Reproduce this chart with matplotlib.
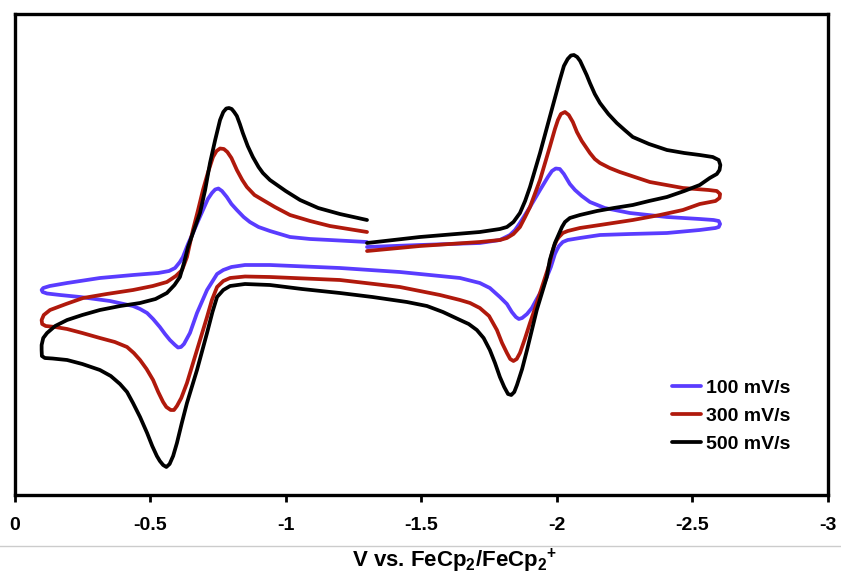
import matplotlib
matplotlib.use("Agg")
import matplotlib.pyplot as plt
from matplotlib import font_manager
from matplotlib.lines import Line2D

# cyclic voltammograms: scan starts at -1.30 V, runs to -2.60 V,
# back to -0.10 V and returns to -1.30 V (current in uA, cathodic up)

v_100 = [-1.300, -1.495, -1.716, -1.790, -1.827, -1.846, -1.864, -1.901, -1.938, -1.967,
         -1.982, -1.996, -2.011, -2.026, -2.048, -2.067, -2.092, -2.122, -2.177, -2.269,
         -2.406, -2.527, -2.578, -2.597, -2.602, -2.597, -2.585, -2.527, -2.406, -2.269,
         -2.159, -2.085, -2.040, -2.022, -2.008, -2.000, -1.993, -1.978, -1.963, -1.945,
         -1.926, -1.908, -1.890, -1.872, -1.860, -1.849, -1.834, -1.816, -1.790, -1.753,
         -1.716, -1.643, -1.569, -1.421, -1.200, -0.942, -0.850, -0.800, -0.770, -0.747,
         -0.710, -0.673, -0.647, -0.625, -0.614, -0.603, -0.592, -0.573, -0.555, -0.536,
         -0.511, -0.489, -0.463, -0.437, -0.352, -0.242, -0.168, -0.120, -0.104, -0.100,
         -0.106, -0.130, -0.194, -0.315, -0.437, -0.530, -0.570, -0.592, -0.610, -0.621,
         -0.640, -0.658, -0.677, -0.695, -0.713, -0.728, -0.740, -0.752, -0.765, -0.783,
         -0.800, -0.820, -0.845, -0.868, -0.900, -0.942, -1.016, -1.090, -1.163, -1.300]
i_100 = [2.3, 2.5, 2.7, 3.0, 3.5, 4.0, 4.7, 6.3, 8.0, 9.3,
         9.9, 10.15, 10.1, 9.6, 8.6, 8.0, 7.4, 6.8, 6.2, 5.7,
         5.3, 5.1, 5.0, 4.9, 4.6, 4.3, 4.2, 4.0, 3.7, 3.6,
         3.5, 3.2, 3.0, 2.8, 2.4, 2.0, 1.6, 0.3, -0.7, -2.0,
         -2.9, -3.8, -4.4, -4.8, -4.9, -4.7, -4.2, -3.4, -2.7, -1.8,
         -1.3, -0.8, -0.6, -0.2, 0.2, 0.5, 0.5, 0.3, 0.0, -0.4,
         -2.0, -4.3, -6.3, -7.4, -7.7, -7.75, -7.5, -7.0, -6.4, -5.7,
         -4.9, -4.3, -3.9, -3.6, -3.1, -2.7, -2.5, -2.35, -2.2, -2.0,
         -1.8, -1.6, -1.3, -0.8, -0.5, -0.3, -0.1, 0.2, 0.8, 1.3,
         2.6, 3.7, 4.9, 6.0, 7.1, 7.7, 8.05, 8.15, 7.9, 7.3,
         6.6, 6.0, 5.3, 4.8, 4.3, 3.9, 3.3, 3.1, 3.0, 2.8]

v_300 = [-1.300, -1.495, -1.716, -1.790, -1.816, -1.840, -1.864, -1.883, -1.901, -1.938,
         -1.974, -1.993, -2.004, -2.015, -2.030, -2.044, -2.059, -2.074, -2.092, -2.122,
         -2.140, -2.159, -2.195, -2.232, -2.343, -2.465, -2.560, -2.590, -2.602, -2.600,
         -2.585, -2.527, -2.465, -2.380, -2.280, -2.159, -2.085, -2.040, -2.022, -2.008,
         -2.000, -1.990, -1.982, -1.974, -1.956, -1.938, -1.920, -1.901, -1.882, -1.864,
         -1.852, -1.840, -1.828, -1.816, -1.798, -1.779, -1.750, -1.716, -1.680, -1.643,
         -1.569, -1.421, -1.200, -0.942, -0.850, -0.795, -0.770, -0.747, -0.728, -0.710,
         -0.673, -0.636, -0.615, -0.599, -0.588, -0.576, -0.560, -0.548, -0.530, -0.511,
         -0.487, -0.463, -0.440, -0.415, -0.370, -0.315, -0.250, -0.194, -0.150, -0.115,
         -0.102, -0.100, -0.108, -0.131, -0.190, -0.253, -0.340, -0.437, -0.510, -0.562,
         -0.595, -0.618, -0.636, -0.658, -0.677, -0.695, -0.714, -0.732, -0.745, -0.758,
         -0.772, -0.785, -0.800, -0.820, -0.840, -0.857, -0.885, -0.916, -0.960, -1.016,
         -1.090, -1.163, -1.300]
i_300 = [1.9, 2.4, 2.8, 3.0, 3.2, 3.6, 4.3, 5.3, 6.3, 9.0,
         12.3, 14.1, 15.0, 15.6, 15.8, 15.5, 14.8, 13.8, 12.9, 11.7,
         11.1, 10.7, 10.2, 9.8, 8.8, 8.2, 8.0, 7.9, 7.6, 7.2,
         6.9, 6.6, 6.0, 5.5, 5.0, 4.5, 4.2, 3.9, 3.7, 3.3,
         3.0, 2.4, 1.7, 0.7, -0.8, -2.3, -3.8, -5.3, -6.9, -8.3,
         -8.9, -9.1, -8.9, -8.3, -7.3, -6.0, -4.6, -3.8, -3.3, -3.0,
         -2.5, -1.7, -1.0, -0.7, -0.65, -0.8, -1.1, -1.7, -3.0, -4.7,
         -8.0, -11.3, -12.8, -13.6, -14.0, -14.0, -13.7, -13.2, -12.2, -11.0,
         -9.9, -9.0, -8.3, -7.7, -7.2, -6.8, -6.3, -5.9, -5.7, -5.6,
         -5.4, -5.0, -4.5, -4.0, -3.4, -2.8, -2.4, -2.0, -1.6, -1.2,
         -0.6, 0.0, 1.3, 4.0, 6.0, 8.0, 9.8, 11.3, 11.9, 12.15,
         12.1, 11.8, 11.2, 10.0, 9.0, 8.3, 7.5, 7.0, 6.3, 5.5,
         4.9, 4.4, 3.8]

v_500 = [-1.300, -1.495, -1.716, -1.790, -1.816, -1.840, -1.864, -1.883, -1.901, -1.938,
         -1.974, -2.011, -2.026, -2.040, -2.052, -2.063, -2.075, -2.086, -2.098, -2.110,
         -2.122, -2.140, -2.159, -2.190, -2.221, -2.250, -2.280, -2.340, -2.406, -2.470,
         -2.527, -2.575, -2.597, -2.603, -2.600, -2.590, -2.564, -2.527, -2.470, -2.406,
         -2.340, -2.280, -2.210, -2.148, -2.085, -2.048, -2.030, -2.019, -2.006, -1.993,
         -1.983, -1.974, -1.963, -1.945, -1.926, -1.908, -1.890, -1.872, -1.853, -1.843,
         -1.832, -1.820, -1.806, -1.790, -1.772, -1.753, -1.730, -1.705, -1.675, -1.643,
         -1.580, -1.521, -1.447, -1.320, -1.200, -1.060, -0.942, -0.850, -0.795, -0.770,
         -0.747, -0.730, -0.710, -0.673, -0.636, -0.617, -0.599, -0.585, -0.572, -0.560,
         -0.548, -0.536, -0.525, -0.508, -0.489, -0.463, -0.437, -0.415, -0.389, -0.355,
         -0.315, -0.250, -0.194, -0.140, -0.112, -0.101, -0.100, -0.100, -0.106, -0.120,
         -0.150, -0.194, -0.250, -0.315, -0.390, -0.463, -0.520, -0.562, -0.590, -0.610,
         -0.625, -0.640, -0.662, -0.684, -0.703, -0.721, -0.740, -0.758, -0.770, -0.781,
         -0.791, -0.801, -0.810, -0.820, -0.831, -0.842, -0.860, -0.879, -0.900, -0.916,
         -0.942, -1.000, -1.053, -1.120, -1.200, -1.300]
i_500 = [2.7, 3.3, 3.8, 4.1, 4.3, 4.8, 5.7, 6.9, 8.3, 11.7,
         15.3, 19.0, 20.4, 21.1, 21.45, 21.5, 21.3, 20.9, 20.2, 19.5,
         18.7, 17.6, 16.7, 15.6, 14.7, 14.0, 13.3, 12.6, 12.0, 11.7,
         11.5, 11.3, 11.0, 10.5, 10.0, 9.6, 9.2, 8.5, 7.9, 7.3,
         6.9, 6.5, 6.2, 5.9, 5.5, 5.2, 4.8, 4.3, 3.5, 2.7,
         1.8, 1.0, -0.7, -2.3, -4.0, -6.0, -8.0, -9.9, -11.5, -12.2,
         -12.5, -12.4, -11.7, -10.7, -9.3, -8.0, -6.8, -6.0, -5.4, -5.0,
         -4.2, -3.6, -3.2, -2.7, -2.3, -1.9, -1.5, -1.4, -1.6, -2.0,
         -2.7, -4.2, -6.3, -10.0, -13.3, -15.3, -17.3, -18.6, -19.4, -19.7,
         -19.5, -19.1, -18.6, -17.6, -16.3, -14.7, -13.3, -12.2, -11.4, -10.6,
         -10.0, -9.4, -9.0, -8.85, -8.8, -8.6, -8.0, -7.5, -6.8, -6.3,
         -5.6, -5.0, -4.5, -4.0, -3.6, -3.3, -2.9, -2.3, -1.5, -0.7,
         0.7, 2.3, 4.0, 5.7, 8.0, 10.7, 13.0, 15.0, 15.8, 16.15,
         16.2, 16.1, 15.8, 15.4, 14.6, 13.7, 12.4, 11.3, 10.3, 9.7,
         9.0, 7.9, 7.0, 6.2, 5.6, 5.0]

scan_labels = ["100 mV/s", "300 mV/s", "500 mV/s"]
scan_colors = ["#5a3cff", "#b0190c", "#000000"]
xticks = [0, -0.5, -1, -1.5, -2, -2.5, -3]
xtick_labels = ["0", "-0.5", "-1", "-1.5", "-2", "-2.5", "-3"]

installed = {f.name for f in font_manager.fontManager.ttflist}
narrow = "Liberation Sans Narrow" if "Liberation Sans Narrow" in installed else "Liberation Sans"
plt.rcParams["font.family"] = ["Liberation Sans", "DejaVu Sans"]

fig = plt.figure(figsize=(8.41, 5.76), dpi=100)
ax = fig.add_axes([14.5 / 841, 1 - 495 / 576, 813.5 / 841, 481 / 576])

for v, cur, lab, col in zip([v_100, v_300, v_500], [i_100, i_300, i_500], scan_labels, scan_colors):
    ax.plot(v, cur, color=col, lw=2.7, label=lab, solid_joinstyle="round", solid_capstyle="round")

ax.set_xlim(0, -3)
ax.set_ylim(-22.5, 25.6)
ax.set_yticks([])
ax.set_xticks(xticks)
ax.set_xticklabels(xtick_labels, fontfamily=narrow, fontweight="bold", fontsize=14)
ax.tick_params(axis="x", direction="out", length=5, width=2, pad=11)
for sp in ax.spines.values():
    sp.set_linewidth(2.4)

ax.legend(loc="upper left", bbox_to_anchor=(0.8085, 0.241), frameon=False,
          handlelength=1.5, handletextpad=0.25, labelspacing=0.53,
          borderpad=0, borderaxespad=0,
          prop={"family": "Liberation Sans", "weight": "bold", "size": 14})

fig.text(455 / 841, 1 - 561 / 576,
         r"V vs. FeCp$_\mathregular{2}$/FeCp$_\mathregular{2}{}^\mathregular{+}$",
         ha="center", va="center", fontsize=16, fontweight="bold", fontfamily=narrow)

# thin grey rule under the tick labels
fig.add_artist(Line2D([0, 1], [1 - 546 / 576] * 2, transform=fig.transFigure, color="#cccccc", lw=1))

fig.savefig("out.png", dpi=100)
